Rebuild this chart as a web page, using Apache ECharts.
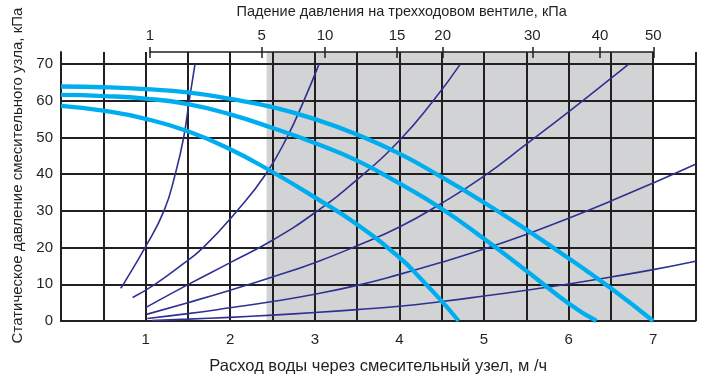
<!DOCTYPE html>
<html>
<head>
<meta charset="utf-8">
<script src="https://cdn.jsdelivr.net/npm/echarts@6/dist/echarts.min.js"></script>
<style>
  html, body { margin: 0; padding: 0; background: #fff; }
  #chart { width: 706px; height: 376px; }
</style>
</head>
<body>
<div id="chart"></div>
<script>
// Axis ticks
const flowTicks = [1, 2, 3, 4, 5, 6, 7];
const headTicks = [0, 10, 20, 30, 40, 50, 60, 70];
// Valve pressure drop scale (kPa) and where each mark sits on the flow scale
const valveDropLabels = [1, 5, 10, 15, 20, 30, 40, 50];
const valveDropFlow = [1.05, 2.37, 3.12, 3.97, 4.51, 5.57, 6.37, 7.0];
// Recommended operating range on the flow scale
const shadedFlow = [2.43, 7.0];

// Pump curves: static pressure vs flow
const pump1Flow = [0, 0.5, 1, 1.5, 2, 2.5, 3, 3.5, 4, 4.25, 4.5, 4.7];
const pump1Head = [58.6, 57.3, 55.1, 51.7, 46.8, 40.6, 33.7, 26.3, 17.3, 11.6, 5.4, 0];
const pump2Flow = [0, 0.5, 1, 1.5, 2, 2.5, 3, 3.5, 4, 4.5, 5, 5.5, 6, 6.33];
const pump2Head = [61.6, 61.3, 60.6, 59.1, 56.3, 52.6, 48.5, 43.7, 37.5, 30.6, 22.4, 13.7, 4.8, 0];
const pump3Flow = [0, 0.5, 1, 1.5, 2, 2.5, 3, 3.5, 4, 4.5, 5, 5.5, 6, 6.5, 7];
const pump3Head = [63.9, 63.7, 63.2, 62.3, 60.5, 58.3, 55.0, 50.8, 45.6, 39.2, 32.3, 24.9, 17.1, 8.9, 0];

// Valve characteristics (pressure drop vs flow)
const valve1Flow = [0.705, 0.737, 0.993, 1.217, 1.35, 1.45, 1.515, 1.584];
const valve1Head = [8.9, 10, 20, 30, 40, 50, 60, 70];
const valve2Flow = [0.847, 1.11, 1.4, 1.68, 2.08, 2.42, 2.67, 2.87, 3.05];
const valve2Head = [6.4, 10, 14.8, 20, 30, 40, 50, 60, 70];
const valve3Flow = [1.005, 1.5, 2.0, 2.5, 3.0, 3.5, 4.0, 4.4, 4.72];
const valve3Head = [3.7, 9.9, 15.9, 22.0, 29.5, 38.5, 49.2, 60, 70];
const valve4Flow = [1.01, 1.5, 2.0, 2.5, 3.0, 3.5, 4.0, 4.5, 5.0, 5.5, 6.0, 6.5, 6.71];
const valve4Head = [1.8, 5.0, 8.4, 12.0, 15.9, 20.5, 25.6, 32.1, 39.5, 48.2, 57.0, 66.1, 70];
const valve5Flow = [1.02, 1.5, 2.0, 2.5, 3.0, 3.5, 4.0, 4.5, 5.0, 5.5, 6.0, 6.5, 7.0, 7.5];
const valve5Head = [0.7, 2.0, 3.6, 5.3, 7.3, 9.7, 12.7, 16.0, 19.6, 23.6, 28.0, 32.7, 37.6, 42.7];
const valve6Flow = [1.07, 1.5, 2.0, 2.5, 3.0, 3.5, 4.0, 4.5, 5.0, 5.5, 6.0, 6.5, 7.0, 7.5];
const valve6Head = [0.1, 0.5, 1.0, 1.6, 2.3, 3.1, 4.0, 5.3, 6.8, 8.4, 10.1, 12.0, 14.0, 16.3];

const yMax = 73.3;
const gridColor = '#231f20';
const textColor = '#231f20';
const pumpColor = '#00aeef';
const valveColor = '#2e3192';
const font = 'Liberation Sans, Arial, sans-serif';

const zip = (xs, ys) => xs.map((x, i) => [x, ys[i]]);

const pumpSeries = [[pump1Flow, pump1Head], [pump2Flow, pump2Head], [pump3Flow, pump3Head]]
  .map(([f, h]) => ({
    type: 'line', xAxisIndex: 0, yAxisIndex: 0, z: 4,
    data: zip(f, h), smooth: 0.5, showSymbol: false, silent: true,
    lineStyle: { color: pumpColor, width: 4.3 }
  }));

const valveSeries = [
  [valve1Flow, valve1Head], [valve2Flow, valve2Head], [valve3Flow, valve3Head],
  [valve4Flow, valve4Head], [valve5Flow, valve5Head], [valve6Flow, valve6Head]
].map(([f, h]) => ({
  type: 'line', xAxisIndex: 0, yAxisIndex: 0, z: 3,
  data: zip(f, h), smooth: 0.5, showSymbol: false, silent: true,
  lineStyle: { color: valveColor, width: 1.6 }
}));

const chart = echarts.init(document.getElementById('chart'), null, { renderer: 'canvas' });

chart.setOption({
  animation: false,
  backgroundColor: '#fff',
  textStyle: { fontFamily: font },
  grid: [
    { left: 61, right: 10.5, top: 52, bottom: 55, outerBoundsMode: 'none', containLabel: false },
    { left: 150, right: 52.7, top: 52, height: 0, outerBoundsMode: 'none', containLabel: false }
  ],
  xAxis: [
    {
      gridIndex: 0, type: 'value', min: 0, max: 7.5, interval: 0.5, z: 2,
      axisLine: { show: true, lineStyle: { color: gridColor, width: 2 } },
      axisTick: { show: false },
      axisLabel: {
        customValues: flowTicks, color: textColor, fontSize: 15, margin: 11.5,
        fontFamily: font
      },
      splitLine: { show: true, lineStyle: { color: gridColor, width: 2 } },
      name: 'Расход воды через смесительный узел, м /ч',
      nameLocation: 'middle', nameGap: 37,
      nameTextStyle: { color: textColor, fontSize: 16.5, fontFamily: font }
    },
    {
      gridIndex: 1, type: 'value', position: 'top', min: valveDropFlow[0], max: valveDropFlow[valveDropFlow.length - 1], z: 2,
      axisLine: { show: true, lineStyle: { color: gridColor, width: 1.5 } },
      axisTick: { show: true, customValues: valveDropFlow, length: 5, lineStyle: { color: gridColor, width: 1.5 } },
      axisLabel: {
        customValues: valveDropFlow, color: textColor, fontSize: 15, margin: 9, fontFamily: font,
        formatter: (v) => {
          let best = 0;
          valveDropFlow.forEach((p, i) => { if (Math.abs(p - v) < Math.abs(valveDropFlow[best] - v)) best = i; });
          return String(valveDropLabels[best]);
        }
      },
      splitLine: { show: false },
      name: 'Падение давления на трехходовом вентиле, кПа',
      nameLocation: 'middle', nameGap: 33,
      nameTextStyle: { color: textColor, fontSize: 14.5, fontFamily: font }
    },
    {
      gridIndex: 1, type: 'value', position: 'bottom', min: valveDropFlow[0], max: valveDropFlow[valveDropFlow.length - 1], z: 2,
      axisLine: { show: false },
      axisTick: { show: true, customValues: valveDropFlow, length: 6, lineStyle: { color: gridColor, width: 1.5 } },
      axisLabel: { show: false },
      splitLine: { show: false }
    }
  ],
  yAxis: [
    {
      gridIndex: 0, type: 'value', min: 0, max: yMax, interval: 10, z: 2,
      axisLine: { show: true, lineStyle: { color: gridColor, width: 2 } },
      axisTick: { show: false, customValues: headTicks },
      axisLabel: {
        customValues: headTicks, color: textColor, fontSize: 15, margin: 8, fontFamily: font,
        padding: [9, 0, 0, 0]
      },
      splitLine: { show: true, lineStyle: { color: gridColor, width: 2 } },
      name: 'Статическое давление смесительного узла, кПа',
      nameLocation: 'middle', nameGap: 36,
      nameTextStyle: { color: textColor, fontSize: 15, fontFamily: font, padding: [0, 0, 0, 22] }
    },
    {
      gridIndex: 1, type: 'value', min: 0, max: 1, show: false
    }
  ],
  series: [
    {
      type: 'custom', xAxisIndex: 0, yAxisIndex: 0, z: 1, silent: true,
      data: [shadedFlow],
      encode: { x: [0, 1] },
      renderItem: (params, api) => {
        const p0 = api.coord([api.value(0), yMax]);
        const p1 = api.coord([api.value(1), 0]);
        return {
          type: 'rect',
          shape: { x: p0[0], y: p0[1], width: p1[0] - p0[0], height: p1[1] - p0[1] },
          style: { fill: '#d1d3d4' }
        };
      }
    },
    ...valveSeries,
    ...pumpSeries
  ]
});
</script>
</body>
</html>
